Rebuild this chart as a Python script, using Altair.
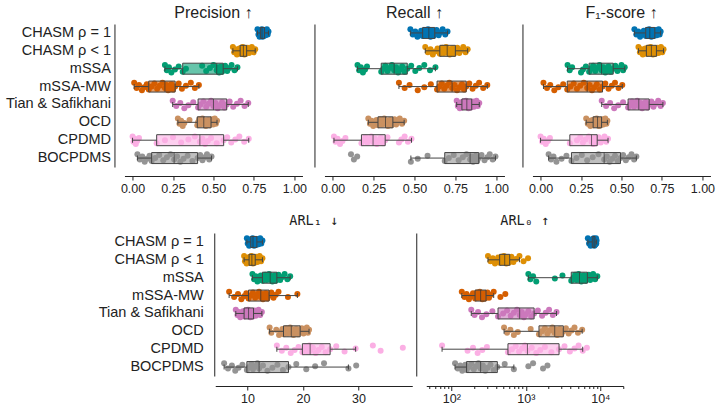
import altair as alt
import pandas as pd

METHODS = ["CHASM ρ = 1", "CHASM ρ < 1", "mSSA", "mSSA-MW",
           "Tian & Safikhani", "OCD", "CPDMD", "BOCPDMS"]
COLORS = ["#0173b2", "#de8f05", "#029e73", "#d55e00",
          "#cc78bc", "#ca9161", "#fbafe4", "#949494"]

PRECISION = [
    [0.772, 0.778, 0.782, 0.785, 0.787, 0.789, 0.790, 0.793, 0.795, 0.797, 0.798, 0.799, 0.800, 0.802, 0.804, 0.806, 0.808, 0.811, 0.815, 0.818, 0.822, 0.826, 0.830, 0.835, 0.840],
    [0.620, 0.628, 0.636, 0.645, 0.652, 0.660, 0.665, 0.668, 0.672, 0.675, 0.678, 0.681, 0.685, 0.688, 0.691, 0.694, 0.697, 0.701, 0.705, 0.712, 0.720, 0.728, 0.737, 0.748, 0.758],
    [0.200, 0.212, 0.225, 0.240, 0.262, 0.285, 0.310, 0.330, 0.430, 0.455, 0.478, 0.500, 0.520, 0.528, 0.535, 0.541, 0.547, 0.553, 0.560, 0.572, 0.585, 0.598, 0.612, 0.630, 0.648],
    [0.010, 0.025, 0.040, 0.058, 0.072, 0.088, 0.100, 0.118, 0.135, 0.152, 0.168, 0.185, 0.200, 0.210, 0.220, 0.230, 0.240, 0.250, 0.263, 0.285, 0.305, 0.330, 0.360, 0.385, 0.410],
    [0.248, 0.270, 0.295, 0.320, 0.345, 0.375, 0.405, 0.420, 0.438, 0.455, 0.470, 0.485, 0.500, 0.513, 0.526, 0.540, 0.553, 0.567, 0.582, 0.600, 0.622, 0.645, 0.668, 0.692, 0.715],
    [0.280, 0.290, 0.300, 0.310, 0.320, 0.352, 0.400, 0.405, 0.412, 0.418, 0.425, 0.432, 0.440, 0.447, 0.453, 0.460, 0.467, 0.475, 0.485, 0.492, 0.498, 0.503, 0.508, 0.515, 0.522],
    [0.000, 0.006, 0.012, 0.020, 0.028, 0.040, 0.149, 0.200, 0.250, 0.300, 0.345, 0.385, 0.416, 0.432, 0.448, 0.465, 0.485, 0.520, 0.563, 0.585, 0.610, 0.635, 0.660, 0.690, 0.718],
    [0.030, 0.045, 0.060, 0.075, 0.090, 0.105, 0.118, 0.140, 0.165, 0.190, 0.212, 0.235, 0.257, 0.275, 0.295, 0.315, 0.340, 0.370, 0.402, 0.418, 0.432, 0.446, 0.460, 0.474, 0.488],
]

RECALL = [
    [0.475, 0.490, 0.505, 0.518, 0.530, 0.541, 0.550, 0.557, 0.564, 0.571, 0.577, 0.583, 0.588, 0.593, 0.598, 0.603, 0.609, 0.616, 0.624, 0.635, 0.648, 0.660, 0.672, 0.688, 0.702],
    [0.566, 0.582, 0.598, 0.612, 0.626, 0.641, 0.655, 0.663, 0.671, 0.679, 0.686, 0.693, 0.700, 0.708, 0.716, 0.725, 0.733, 0.742, 0.750, 0.762, 0.774, 0.786, 0.798, 0.812, 0.825],
    [0.152, 0.162, 0.172, 0.185, 0.198, 0.210, 0.297, 0.310, 0.322, 0.335, 0.348, 0.362, 0.376, 0.388, 0.400, 0.412, 0.425, 0.440, 0.456, 0.480, 0.505, 0.530, 0.560, 0.595, 0.628],
    [0.405, 0.440, 0.470, 0.520, 0.560, 0.600, 0.638, 0.652, 0.667, 0.682, 0.697, 0.713, 0.730, 0.745, 0.760, 0.775, 0.790, 0.803, 0.816, 0.835, 0.855, 0.875, 0.895, 0.920, 0.945],
    [0.758, 0.765, 0.771, 0.777, 0.782, 0.786, 0.790, 0.795, 0.800, 0.805, 0.810, 0.815, 0.820, 0.825, 0.830, 0.835, 0.840, 0.845, 0.850, 0.857, 0.864, 0.871, 0.879, 0.887, 0.896],
    [0.218, 0.228, 0.238, 0.248, 0.258, 0.268, 0.277, 0.285, 0.292, 0.300, 0.308, 0.315, 0.323, 0.330, 0.338, 0.345, 0.352, 0.360, 0.368, 0.378, 0.388, 0.398, 0.410, 0.424, 0.437],
    [0.008, 0.018, 0.030, 0.045, 0.060, 0.078, 0.176, 0.188, 0.200, 0.212, 0.224, 0.236, 0.247, 0.258, 0.270, 0.282, 0.294, 0.307, 0.321, 0.335, 0.405, 0.420, 0.440, 0.460, 0.482],
    [0.112, 0.130, 0.150, 0.478, 0.520, 0.580, 0.685, 0.710, 0.740, 0.770, 0.795, 0.818, 0.840, 0.850, 0.858, 0.866, 0.874, 0.883, 0.893, 0.910, 0.928, 0.945, 0.960, 0.978, 0.995],
]

F1 = [
    [0.580, 0.592, 0.604, 0.615, 0.626, 0.638, 0.650, 0.655, 0.659, 0.663, 0.667, 0.671, 0.675, 0.680, 0.685, 0.690, 0.695, 0.700, 0.706, 0.712, 0.718, 0.724, 0.730, 0.736, 0.742],
    [0.605, 0.614, 0.623, 0.632, 0.640, 0.647, 0.654, 0.659, 0.664, 0.669, 0.674, 0.680, 0.685, 0.690, 0.695, 0.700, 0.705, 0.710, 0.716, 0.722, 0.729, 0.736, 0.744, 0.752, 0.760],
    [0.167, 0.180, 0.195, 0.250, 0.262, 0.280, 0.300, 0.312, 0.325, 0.338, 0.350, 0.364, 0.377, 0.388, 0.400, 0.410, 0.420, 0.432, 0.449, 0.462, 0.475, 0.488, 0.500, 0.510, 0.520],
    [0.018, 0.040, 0.060, 0.085, 0.110, 0.140, 0.165, 0.185, 0.205, 0.225, 0.245, 0.267, 0.288, 0.303, 0.318, 0.333, 0.348, 0.365, 0.383, 0.400, 0.420, 0.440, 0.460, 0.482, 0.505],
    [0.378, 0.405, 0.430, 0.455, 0.480, 0.510, 0.541, 0.553, 0.565, 0.577, 0.588, 0.598, 0.607, 0.618, 0.628, 0.638, 0.649, 0.660, 0.671, 0.685, 0.698, 0.712, 0.727, 0.742, 0.756],
    [0.282, 0.292, 0.300, 0.308, 0.314, 0.320, 0.325, 0.330, 0.334, 0.338, 0.343, 0.347, 0.352, 0.356, 0.360, 0.364, 0.368, 0.372, 0.377, 0.382, 0.388, 0.394, 0.400, 0.407, 0.413],
    [0.000, 0.010, 0.020, 0.032, 0.045, 0.058, 0.181, 0.225, 0.245, 0.262, 0.278, 0.298, 0.315, 0.320, 0.326, 0.331, 0.337, 0.343, 0.350, 0.360, 0.372, 0.384, 0.395, 0.406, 0.417],
    [0.050, 0.065, 0.080, 0.098, 0.130, 0.160, 0.191, 0.222, 0.255, 0.288, 0.322, 0.358, 0.393, 0.410, 0.427, 0.443, 0.460, 0.477, 0.494, 0.510, 0.527, 0.545, 0.562, 0.578, 0.592],
]

ARL1 = [
    [9.9, 10.05, 10.2, 10.3, 10.4, 10.5, 10.6, 10.67, 10.74, 10.81, 10.87, 10.94, 11.0, 11.1, 11.2, 11.3, 11.42, 11.55, 11.7, 11.85, 12.0, 12.15, 12.3, 12.5, 12.7],
    [9.4, 9.55, 9.7, 9.85, 10.0, 10.15, 10.3, 10.38, 10.46, 10.55, 10.63, 10.72, 10.8, 10.9, 11.0, 11.1, 11.2, 11.3, 11.4, 11.6, 11.8, 12.0, 12.2, 12.45, 12.7],
    [10.9, 11.2, 11.5, 11.8, 12.1, 12.4, 12.7, 12.95, 13.2, 13.45, 13.65, 13.9, 14.1, 14.3, 14.5, 14.7, 14.9, 15.1, 15.3, 15.6, 15.9, 16.3, 16.7, 17.2, 17.7],
    [6.7, 7.6, 8.3, 8.9, 9.4, 9.8, 10.2, 10.6, 11.0, 11.4, 11.8, 12.1, 12.4, 12.6, 12.8, 13.0, 13.3, 13.6, 13.9, 14.3, 14.7, 15.1, 15.6, 17.3, 19.0],
    [7.9, 8.2, 8.45, 8.7, 8.95, 9.2, 9.4, 9.55, 9.7, 9.85, 9.95, 10.1, 10.2, 10.35, 10.5, 10.65, 10.8, 10.95, 11.1, 11.3, 11.5, 11.75, 12.0, 12.3, 12.6],
    [14.0, 14.3, 15.2, 15.7, 16.0, 16.3, 16.5, 16.75, 17.0, 17.25, 17.45, 17.7, 17.9, 18.1, 18.3, 18.5, 18.8, 19.1, 19.5, 19.8, 20.1, 20.4, 20.7, 20.9, 21.1],
    [15.3, 16.2, 17.0, 17.8, 18.5, 19.2, 19.9, 20.2, 20.5, 20.8, 21.0, 21.15, 21.3, 21.8, 22.3, 22.8, 23.4, 24.1, 24.9, 26.0, 27.5, 29.5, 32.6, 34.0, 38.0],
    [5.8, 6.5, 7.2, 7.8, 8.4, 9.1, 9.9, 10.3, 10.7, 11.0, 11.4, 11.8, 12.1, 12.8, 13.6, 14.5, 15.4, 16.4, 17.4, 18.8, 20.6, 22.2, 23.8, 28.2, 29.6],
]

ARL0 = [
    [6800, 7050, 7250, 7400, 7550, 7700, 7800, 7880, 7950, 8020, 8080, 8140, 8200, 8250, 8300, 8340, 8380, 8440, 8500, 8560, 8620, 8680, 8750, 8820, 8900],
    [310, 335, 360, 385, 405, 425, 445, 458, 470, 483, 495, 508, 520, 533, 546, 560, 575, 590, 607, 640, 680, 740, 820, 930, 1070],
    [1080, 1150, 1250, 1380, 2450, 3100, 4070, 4350, 4600, 4800, 4950, 5100, 5250, 5400, 5550, 5750, 6000, 6300, 6700, 7000, 7300, 7650, 8000, 8500, 9100],
    [138, 150, 160, 172, 183, 195, 208, 215, 222, 229, 235, 241, 247, 254, 261, 268, 275, 283, 292, 305, 320, 340, 370, 455, 530],
    [185, 205, 228, 258, 295, 355, 423, 495, 560, 625, 690, 760, 826, 880, 940, 1000, 1080, 1180, 1290, 1450, 1650, 1850, 2050, 2300, 2580],
    [510, 560, 620, 690, 780, 1160, 1500, 1650, 1800, 1950, 2100, 2270, 2440, 2540, 2640, 2740, 2860, 3000, 3180, 3450, 3750, 4100, 4500, 5000, 5700],
    [75, 165, 195, 225, 260, 300, 575, 650, 730, 810, 890, 970, 1050, 1200, 1380, 1560, 1800, 2200, 2790, 3300, 3900, 4500, 5100, 5800, 6600],
    [112, 122, 132, 140, 148, 154, 160, 172, 185, 200, 215, 231, 247, 265, 285, 308, 335, 370, 414, 520, 690, 1080, 1250, 1700, 1950],
]

BAND = 143 / 8  # pixel height of one category row

rows = []
for metric, table in [("prec", PRECISION), ("rec", RECALL), ("f1", F1),
                      ("arl1", ARL1), ("arl0", ARL0)]:
    for method, vals in zip(METHODS, table):
        for i, v in enumerate(vals):
            rows.append({"metric": metric, "method": method, "value": v,
                         "jit": BAND / 2 + ((i * 7) % 11 - 5) * 0.75})
df = pd.DataFrame(rows)

FONT = "Liberation Sans"
INK = "#222222"


def panel(metric, title, width, xscale, xaxis, yaxis, tfont=FONT, tsize=16, toff=3):
    base = alt.Chart(df[df.metric == metric])
    y = alt.Y("method:N", sort=METHODS,
              scale=alt.Scale(domain=METHODS, paddingInner=0, paddingOuter=0),
              axis=yaxis, title=None)
    x = alt.X("value:Q", scale=xscale, axis=xaxis, title=None)
    color = alt.Color("method:N", scale=alt.Scale(domain=METHODS, range=COLORS),
                      legend=None)
    pts = base.mark_circle(size=36, opacity=1).encode(
        x=x, y=y, yOffset=alt.YOffset("jit:Q", scale=None), color=color)
    box = base.mark_boxplot(
        extent=1.5, outliers=False, size=11,
        box=alt.MarkConfig(stroke="#444444", strokeWidth=1, fillOpacity=0.6),
        median=alt.MarkConfig(color="#333333", strokeWidth=1),
        rule=alt.MarkConfig(color="#444444", strokeWidth=1),
        ticks=alt.MarkConfig(color="#444444", size=5),
    ).encode(x=x, y=y, color=color)
    return alt.layer(pts, box).properties(
        width=width, height=143,
        title=alt.TitleParams(title, font=tfont, fontSize=tsize, fontWeight="normal",
                              color=INK, offset=toff, anchor="middle"))


def xaxis(**kw):
    base = dict(grid=False, domainColor=INK, tickColor=INK, labelColor=INK,
                labelFont=FONT, labelFontSize=12.5, tickSize=4, labelPadding=2,
                offset=9, labelFlush=False, labelOverlap=False, title=None)
    base.update(kw)
    return alt.Axis(**base)


def yaxis(labels, offset=10, pad=4):
    return alt.Axis(labels=labels, ticks=False, domain=True, domainColor=INK,
                    offset=offset, labelFont=FONT, labelFontSize=14.5,
                    labelPadding=pad, labelColor=INK, title=None)


unit_scale = alt.Scale(domain=[-0.05, 1.05], nice=False, zero=False)
unit_axis = xaxis(values=[0, 0.25, 0.5, 0.75, 1.0], format=".2f")

p1 = panel("prec", "Precision ↑", 178, unit_scale, unit_axis, yaxis(True))
p2 = panel("rec", "Recall ↑", 180, unit_scale, unit_axis, yaxis(False))
p3 = panel("f1", "F₁-score ↑", 178, unit_scale, unit_axis, yaxis(False))

arl1_scale = alt.Scale(domain=[4.2, 39.7], nice=False, zero=False)
arl1_axis = xaxis(values=[10, 20, 30], offset=10)
a1 = panel("arl1", "ARL₁ ↓", 197, arl1_scale, arl1_axis, yaxis(True, offset=1, pad=11),
           tfont="DejaVu Sans Mono", tsize=13.5, toff=6)

log_ticks = [50, 60, 70, 80, 90, 100, 200, 300, 400, 500, 600, 700, 800, 900,
             1000, 2000, 3000, 4000, 5000, 6000, 7000, 8000, 9000, 10000, 20000]
arl0_scale = alt.Scale(type="log", domain=[46, 20300], nice=False)
arl0_axis = xaxis(
    values=log_ticks, offset=10,
    labelExpr="datum.value == 100 ? '10²' : datum.value == 1000 ? '10³' : datum.value == 10000 ? '10⁴' : ''",
    tickSize={"condition": {"test": "datum.value == 100 || datum.value == 1000 || datum.value == 10000",
                            "value": 4.5}, "value": 2.5})
a0 = panel("arl0", "ARL₀ ↑", 197, arl0_scale, arl0_axis, yaxis(False),
           tfont="DejaVu Sans Mono", tsize=13.5, toff=6)

top = alt.hconcat(alt.hconcat(p1, p2, spacing=7), p3, spacing=14)
bottom = alt.hconcat(a1, a0, spacing=4)
chart = alt.vconcat(top, bottom, spacing=18, center=True).configure_view(
    stroke=None).properties(padding={"left": 5, "top": 5, "right": 5, "bottom": 5},
                            background="white")

chart.save("out.html", embed_options={"renderer": "svg", "actions": False})
